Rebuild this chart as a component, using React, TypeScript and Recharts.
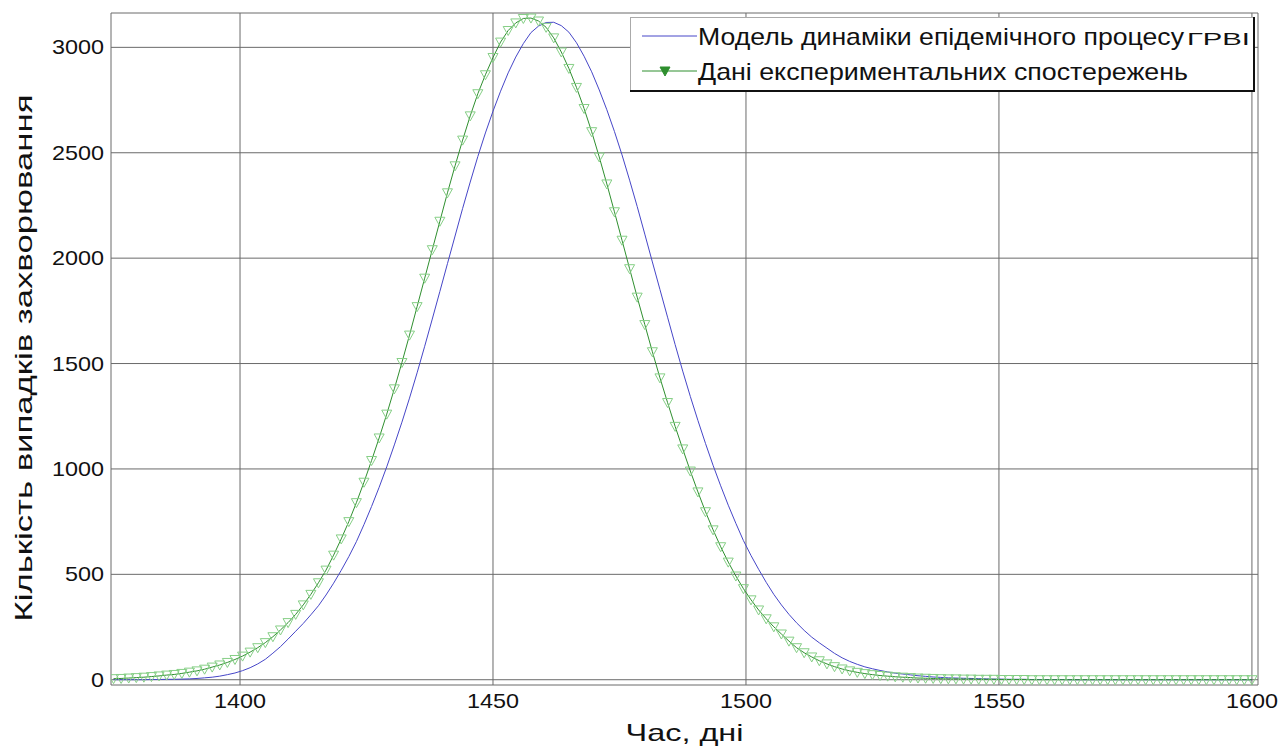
import {
  LineChart,
  Line,
  XAxis,
  YAxis,
  CartesianGrid,
  ReferenceArea,
  Legend,
} from 'recharts'

// days (step 1.5)
const days = [
  1375, 1376.5, 1378, 1379.5, 1381, 1382.5, 1384, 1385.5, 1387, 1388.5,
  1390, 1391.5, 1393, 1394.5, 1396, 1397.5, 1399, 1400.5, 1402, 1403.5,
  1405, 1406.5, 1408, 1409.5, 1411, 1412.5, 1414, 1415.5, 1417, 1418.5,
  1420, 1421.5, 1423, 1424.5, 1426, 1427.5, 1429, 1430.5, 1432, 1433.5,
  1435, 1436.5, 1438, 1439.5, 1441, 1442.5, 1444, 1445.5, 1447, 1448.5,
  1450, 1451.5, 1453, 1454.5, 1456, 1457.5, 1459, 1460.5, 1462, 1463.5,
  1465, 1466.5, 1468, 1469.5, 1471, 1472.5, 1474, 1475.5, 1477, 1478.5,
  1480, 1481.5, 1483, 1484.5, 1486, 1487.5, 1489, 1490.5, 1492, 1493.5,
  1495, 1496.5, 1498, 1499.5, 1501, 1502.5, 1504, 1505.5, 1507, 1508.5,
  1510, 1511.5, 1513, 1514.5, 1516, 1517.5, 1519, 1520.5, 1522, 1523.5,
  1525, 1526.5, 1528, 1529.5, 1531, 1532.5, 1534, 1535.5, 1537, 1538.5,
  1540, 1541.5, 1543, 1544.5, 1546, 1547.5, 1549, 1550.5, 1552, 1553.5,
  1555, 1556.5, 1558, 1559.5, 1561, 1562.5, 1564, 1565.5, 1567, 1568.5,
  1570, 1571.5, 1573, 1574.5, 1576, 1577.5, 1579, 1580.5, 1582, 1583.5,
  1585, 1586.5, 1588, 1589.5, 1591, 1592.5, 1594, 1595.5, 1597, 1598.5,
  1600,
]

// model of the epidemic process (blue)
const modelCases = [
  0, 0, 0, 0, 0, 1, 1, 2, 2, 3,
  4, 6, 9, 12, 17, 24, 32, 43, 57, 75,
  97, 126, 157, 193, 230, 267, 308, 351, 402, 458,
  519, 584, 655, 736, 822, 913, 1010, 1114, 1222, 1336,
  1456, 1582, 1711, 1842, 1974, 2105, 2236, 2361, 2482, 2594,
  2697, 2792, 2879, 2954, 3018, 3070, 3101, 3118, 3119, 3103,
  3072, 3022, 2958, 2884, 2798, 2704, 2601, 2490, 2370, 2245,
  2114, 1982, 1851, 1720, 1590, 1464, 1344, 1230, 1121, 1017,
  920, 828, 742, 660, 589, 524, 462, 405, 355, 310,
  270, 234, 202, 175, 150, 125, 104, 87, 73, 61,
  52, 44, 37, 31, 27, 23, 19, 16, 13, 11,
  9, 8, 7, 6, 5, 4, 3, 3, 2, 2,
  2, 1, 1, 1, 1, 1, 0, 0, 0, 0,
  0, 0, 0, 0, 0, 0, 0, 0, 0, 0,
  0, 0, 0, 0, 0, 0, 0, 0, 0, 0,
  0,
]

// experimental observations (green)
const observedCases = [
  5, 6, 8, 10, 12, 15, 18, 22, 25, 30,
  36, 42, 50, 60, 70, 82, 96, 112, 131, 152,
  176, 204, 236, 271, 310, 355, 405, 460, 520, 591,
  668, 750, 840, 937, 1040, 1147, 1260, 1380, 1505, 1635,
  1770, 1905, 2040, 2175, 2310, 2438, 2560, 2675, 2780, 2870,
  2952, 3025, 3080, 3116, 3137, 3139, 3125, 3095, 3045, 2978,
  2900, 2810, 2710, 2600, 2480, 2352, 2220, 2085, 1950, 1815,
  1685, 1556, 1432, 1315, 1202, 1095, 990, 891, 797, 711,
  631, 558, 492, 432, 379, 331, 289, 251, 217, 183,
  152, 128, 108, 90, 75, 62, 51, 42, 35, 29,
  24, 20, 17, 14, 12, 10, 8, 7, 6, 5,
  4, 4, 3, 3, 2, 2, 2, 1, 1, 1,
  1, 0, 0, 0, 0, 0, 0, 0, 0, 0,
  0, 0, 0, 0, 0, 0, 0, 0, 0, 0,
  0, 0, 0, 0, 0, 0, 0, 0, 0, 0,
  0,
]

const xTicks = [1400, 1450, 1500, 1550, 1600]
const yTicks = [0, 500, 1000, 1500, 2000, 2500, 3000]

const modelName = 'Модель динаміки епідемічного процесу'
const modelSuffix = 'ГРВІ'
const observedName = 'Дані експериментальних спостережень'
const xTitle = 'Час, дні'
const yTitle = 'Кількість випадків захворювання'

const data = days.map((day, i) => ({
  day,
  model: modelCases[i],
  observed: observedCases[i],
}))

const FONT = 'Liberation Sans, Arial, sans-serif'
const BLUE = '#4646c8'
const GREEN = '#2f8f2f'
const MARKER = '#86cf86'

function XTick({ x, y, payload }: any) {
  const s = String(payload.value)
  return (
    <text x={x} y={y + 15} textAnchor="middle" fontFamily={FONT} fontSize={21} fill="#111"
      textLength={s.length * 13} lengthAdjust="spacingAndGlyphs">
      {s}
    </text>
  )
}

function YTick({ x, y, payload }: any) {
  const s = String(payload.value)
  return (
    <text x={x + 1} y={y + 7} textAnchor="end" fontFamily={FONT} fontSize={21} fill="#111"
      textLength={s.length * 13} lengthAdjust="spacingAndGlyphs">
      {s}
    </text>
  )
}

function Triangle({ cx, cy, index }: any) {
  if (cx == null || cy == null) return <g key={`t-${index}`} />
  return (
    <path
      key={`t-${index}`}
      d={`M${cx - 5},${cy - 4} L${cx + 5},${cy - 4} L${cx},${cy + 5} Z`}
      fill="none"
      stroke={MARKER}
      strokeWidth={1}
    />
  )
}

function LegendBox() {
  return (
    <svg width={626} height={76} style={{ display: 'block' }}>
      <rect x={0.5} y={0.5} width={623} height={73} fill="#fff" stroke="#aaa" />
      <line x1={624} y1={0} x2={624} y2={75} stroke="#111" strokeWidth={2} />
      <line x1={0} y1={74} x2={625} y2={74} stroke="#111" strokeWidth={2} />
      <line x1={12} y1={19} x2={67} y2={19} stroke={BLUE} />
      <text x={68} y={28} fontFamily={FONT} fontSize={24} fill="#111"
        textLength={486} lengthAdjust="spacingAndGlyphs">{modelName}</text>
      <text x={557} y={28} fontFamily={FONT} fontSize={17} fill="#111"
        textLength={63} lengthAdjust="spacingAndGlyphs">{modelSuffix}</text>
      <line x1={12} y1={54} x2={67} y2={54} stroke={GREEN} />
      <path d="M30,50 L40,50 L35,59 Z" fill={GREEN} stroke={GREEN} />
      <text x={68} y={63} fontFamily={FONT} fontSize={24} fill="#111"
        textLength={490} lengthAdjust="spacingAndGlyphs">{observedName}</text>
    </svg>
  )
}

export default function App() {
  return (
    <div style={{ position: 'absolute', left: 0, top: 0, background: '#fff' }}>
      <LineChart width={1280} height={746} data={data} margin={{ top: 13, right: 22, bottom: 0, left: 0 }}>
        <CartesianGrid stroke="#6a6a6a" strokeWidth={1} />
        <XAxis
          dataKey="day"
          type="number"
          domain={[1374.5, 1601.2]}
          ticks={xTicks}
          allowDataOverflow
          height={61}
          tickLine={false}
          axisLine={false}
          tick={<XTick />}
          label={{
            content: ({ viewBox }: any) => (
              <text x={viewBox.x + viewBox.width / 2} y={viewBox.y + 56} textAnchor="middle"
                fontFamily={FONT} fontSize={24} fill="#111" textLength={118} lengthAdjust="spacingAndGlyphs">
                {xTitle}
              </text>
            ),
          }}
        />
        <YAxis
          type="number"
          domain={[-25, 3163]}
          ticks={yTicks}
          allowDataOverflow
          width={111}
          tickLine={false}
          axisLine={false}
          tick={<YTick />}
          label={{
            content: ({ viewBox }: any) => {
              const cx = viewBox.x + 32
              const cy = viewBox.y + viewBox.height / 2 + 9
              return (
                <text x={cx} y={cy} transform={`rotate(-90 ${cx} ${cy})`} textAnchor="middle"
                  fontFamily={FONT} fontSize={24} fill="#111" textLength={527} lengthAdjust="spacingAndGlyphs">
                  {yTitle}
                </text>
              )
            },
          }}
        />
        <ReferenceArea fill="none" stroke="#8a8a8a" strokeWidth={1} />
        <Line
          type="linear"
          dataKey="model"
          stroke={BLUE}
          strokeWidth={1}
          dot={false}
          isAnimationActive={false}
        />
        <Line
          type="linear"
          dataKey="observed"
          stroke={GREEN}
          strokeWidth={1}
          dot={(p: any) => <Triangle key={`t-${p.index}`} {...p} />}
          isAnimationActive={false}
        />
        <Legend
          layout="horizontal"
          align="center"
          verticalAlign="middle"
          content={() => <LegendBox />}
          wrapperStyle={{ left: 630, top: 17, width: 626, height: 76 }}
        />
      </LineChart>
    </div>
  )
}
